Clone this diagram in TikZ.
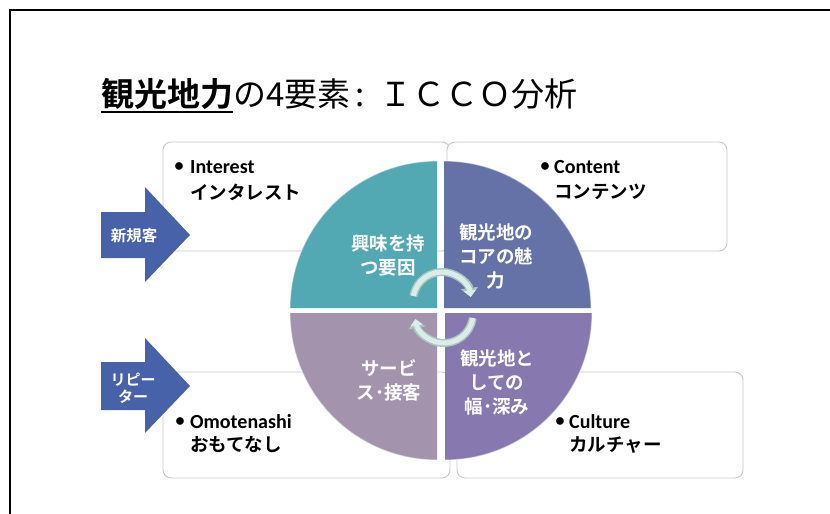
\documentclass[tikz,border=0pt]{standalone}
\usepackage{fontspec}
\setmainfont{Noto Sans CJK JP}[BoldFont={Noto Sans CJK JP Bold}]
\newfontfamily\lat{Carlito}
\usetikzlibrary{arrows.meta}
\definecolor{qTL}{HTML}{52A9B3}
\definecolor{qTR}{HTML}{6472A8}
\definecolor{qBL}{HTML}{A393AC}
\definecolor{qBR}{HTML}{8778AF}
\definecolor{arrowblue}{HTML}{4862AA}
\definecolor{boxedge}{HTML}{C4C8D0}
\definecolor{ringedge}{HTML}{A9C6C2}
\definecolor{ringfill}{HTML}{DCECE8}
\tikzset{
  infobox/.style={draw=boxedge, line width=0.9pt, rounded corners=8pt, fill=white},
  quad/.style={draw=white, draw opacity=0.45, line width=1.2pt},
  qlabel/.style={text=white, font=\bfseries\fontsize{18.5}{24}\selectfont, align=center, inner sep=0pt},
  enlabel/.style={font=\lat\bfseries\fontsize{20}{22}\selectfont, anchor=west, inner sep=0pt},
  jplabel/.style={font=\bfseries\fontsize{18.5}{22}\selectfont, anchor=west, inner sep=0pt},
  bulletlabel/.style={font=\lat\bfseries\fontsize{18}{22}\selectfont, inner sep=0pt},
  blockarrow/.style={fill=arrowblue},
  arrowtext/.style={text=white, font=\bfseries\fontsize{15.5}{18}\selectfont, align=center, inner sep=0pt},
  ringout/.style={draw=ringedge, line width=8pt, -{Triangle[width=17pt,length=9pt]}},
  ringin/.style={draw=ringfill, line width=5pt, -{Triangle[width=12pt,length=6.5pt]}}
}
\begin{document}
\begin{tikzpicture}[x=1pt,y=-1pt]
\useasboundingbox (0,0) rectangle (830,514);
% frame
\draw[line width=2pt] (9.5,514) -- (9.5,10) -- (830,10);
% title
\node[anchor=base west, inner sep=0pt, font=\bfseries\fontsize{33}{33}\selectfont] (t1) at (101,106) {観光地力};
\node[anchor=base west, inner sep=0pt, font=\fontsize{33}{33}\selectfont] (t2) at (t1.base east) {の4要素\hspace{5pt}:\hspace{14pt}ＩＣＣＯ分析};
\draw[line width=2pt] ([yshift=-6pt]t1.base west) -- ([yshift=-6pt]t1.base east);
% boxes
\draw[infobox] (163,142) rectangle (450,251);
\draw[infobox] (447,142) rectangle (727,251);
\draw[infobox] (163,372) rectangle (450,478);
\draw[infobox] (457,372) rectangle (743,478);
% box texts
\node[bulletlabel] (b1) at (179,167) {•};
\node[enlabel] (i1) at (190,167) {Interest};
\node[jplabel] (i2) at (190,192) {インタレスト};
\node[bulletlabel] (b2) at (545,167) {•};
\node[enlabel] (c1) at (554,167) {Content};
\node[jplabel] (c2) at (554,192) {コンテンツ};
\node[bulletlabel] (b3) at (180,422) {•};
\node[enlabel] (o1) at (190,422) {Omotenashi};
\node[jplabel] (o2) at (190,445) {おもてなし};
\node[bulletlabel] (b4) at (560,422) {•};
\node[enlabel] (u1) at (569,422) {Culture};
\node[jplabel] (u2) at (569,445) {カルチャー};
% quadrants
\fill[qTL] (437,308) -- (290,308) arc[start angle=180, end angle=270, radius=147] -- cycle;
\fill[qTR] (444,308) -- (444,161) arc[start angle=270, end angle=360, radius=147] -- cycle;
\fill[qBR] (445,313) -- (592,313) arc[start angle=0, end angle=90, radius=147] -- cycle;
\fill[qBL] (437,313) -- (437,460) arc[start angle=90, end angle=180, radius=147] -- cycle;
\draw[quad] (290,308) arc[start angle=180, end angle=270, radius=147];
\draw[quad] (444,161) arc[start angle=270, end angle=360, radius=147];
\draw[quad] (592,313) arc[start angle=0, end angle=90, radius=147];
\draw[quad] (437,460) arc[start angle=90, end angle=180, radius=147];
% quadrant labels
\node[qlabel] (q1) at (388,256) {興味を持\\つ要因};
\node[qlabel] (q2) at (496,256) {観光地の\\コアの魅\\力};
\node[qlabel] (q3) at (389,380) {サービ\\ス･接客};
\node[qlabel] (q4) at (497,382) {観光地と\\しての\\幅･深み};
% ring
\coordinate (rc1) at (442,301);
\coordinate (rc2) at (444,314);
\draw[ringout] ([shift={(190:29)}]rc1) arc[start angle=190, end angle=352, radius=29];
\draw[ringin] ([shift={(190:29)}]rc1) arc[start angle=190, end angle=352, radius=29];
\draw[ringout] ([shift={(8:29)}]rc2) arc[start angle=8, end angle=170, radius=29];
\draw[ringin] ([shift={(8:29)}]rc2) arc[start angle=8, end angle=170, radius=29];
% block arrows
\fill[blockarrow] (101,212) -- (145,212) -- (145,187) -- (190,235) -- (145,282) -- (145,258) -- (101,258) -- cycle;
\fill[blockarrow] (101,362) -- (145,362) -- (145,338) -- (190,386) -- (145,433) -- (145,410) -- (101,410) -- cycle;
\node[arrowtext] (a1) at (134,236) {新規客};
\node[arrowtext, font=\bfseries\fontsize{15}{17}\selectfont] (a2) at (133,388) {リピー\\ター};
\end{tikzpicture}
\end{document}
